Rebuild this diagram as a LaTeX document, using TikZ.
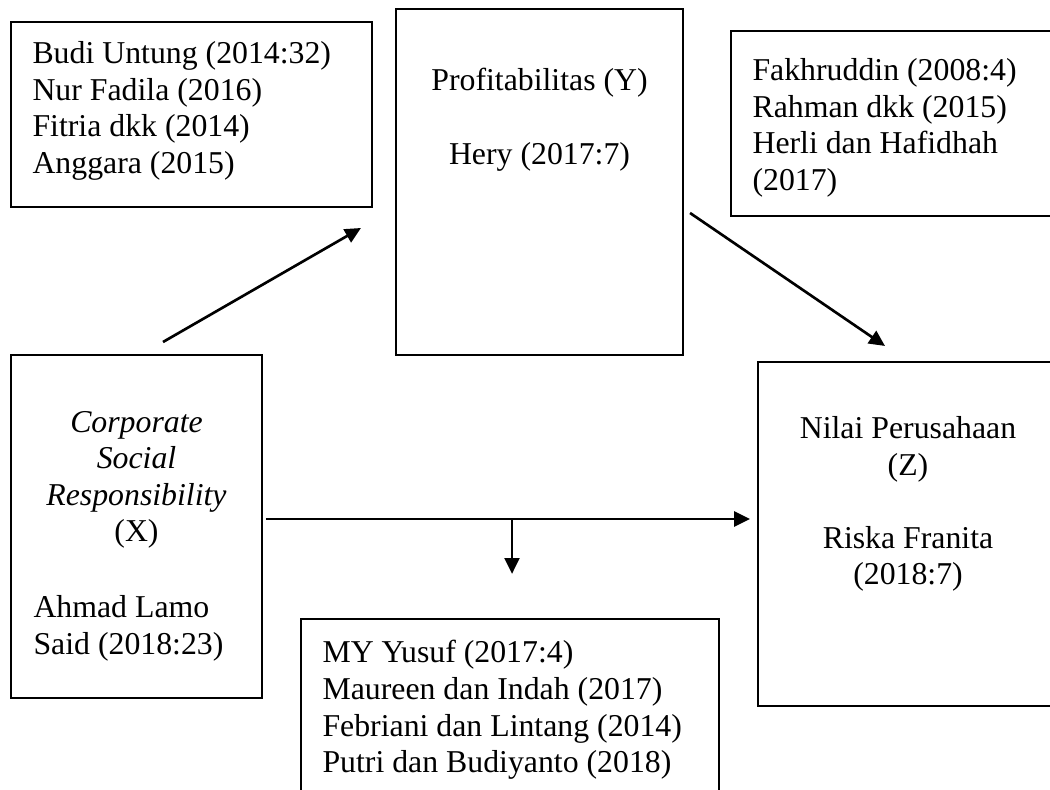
\documentclass[tikz,border=0pt]{standalone}
\usepackage{fontspec}
\setmainfont{Liberation Serif}
\usepackage{tikz}
\usetikzlibrary{arrows,arrows.meta,positioning}

\begin{document}
\begin{tikzpicture}[
  x=0.3774pt, y=-0.3774pt,
  box/.style={draw, line width=0.8pt, inner sep=0pt},
  txt/.style={inner sep=0pt, font=\fontsize{12pt}{13.8pt}\selectfont},
  arrow/.style={-{Triangle[length=6pt, width=5.6pt]}, line width=1pt}
]
  \useasboundingbox (0,0) rectangle (1050,789);
  \clip (0,0) rectangle (1050,789);

  % Boxes
  \node[box, minimum width=136.2pt, minimum height=69.8pt] (budi) at (191.5,114.5) {};
  \node[box, minimum width=108.3pt, minimum height=130.6pt] (profit) at (539.5,182) {};
  \node[box, minimum width=124.2pt, minimum height=69.8pt] (fakh) at (895.5,123.5) {};
  \node[box, minimum width=94.7pt, minimum height=129.4pt] (csr) at (136.5,526.5) {};
  \node[box, minimum width=113.2pt, minimum height=129.8pt] (nilai) at (908,534) {};
  \node[box, minimum width=157.8pt, minimum height=75.9pt] (yusuf) at (510,719.5) {};

  % Texts
  \node[txt, anchor=north west, align=left] (budiT) at (32,41)
    {Budi Untung (2014:32)\\Nur Fadila (2016)\\Fitria dkk (2014)\\Anggara (2015)};
  \node[txt, anchor=north, align=center] (profitT) at (539.5,68)
    {Profitabilitas (Y)\\[13.8pt]Hery (2017:7)};
  \node[txt, anchor=north west, align=left] (fakhT) at (752,58)
    {Fakhruddin (2008:4)\\Rahman dkk (2015)\\Herli dan Hafidhah\\(2017)};
  \node[txt, anchor=north, align=center] (csrT) at (136.5,410.5)
    {\textit{Corporate}\\\textit{Social}\\\textit{Responsibility}\\(X)};
  \node[txt, anchor=north west, align=left] (csrRef) at (33,595)
    {Ahmad Lamo\\Said (2018:23)};
  \node[txt, anchor=north, align=center] (nilaiT) at (908,416)
    {Nilai Perusahaan\\(Z)\\[13.8pt]Riska Franita\\(2018:7)};
  \node[txt, anchor=north west, align=left] (yusufT) at (322,640)
    {MY Yusuf (2017:4)\\Maureen dan Indah (2017)\\Febriani dan Lintang (2014)\\Putri dan Budiyanto (2018)};

  % Arrows
  \coordinate (split) at (512,519);
  \draw[arrow] ([shift={(26.5,-12)}]csr.north) -- ([shift={(-34,46)}]profit.west);
  \draw[arrow] ([shift={(6,31)}]profit.east) -- ([shift={(-23,-15)}]nilai.north);
  \draw[arrow, shorten <=1.1pt, shorten >=2.6pt] (split -| csr.east) -- (split -| nilai.west);
  \draw[arrow, shorten >=16.6pt] (split) -- (split |- yusuf.north);
\end{tikzpicture}
\end{document}
